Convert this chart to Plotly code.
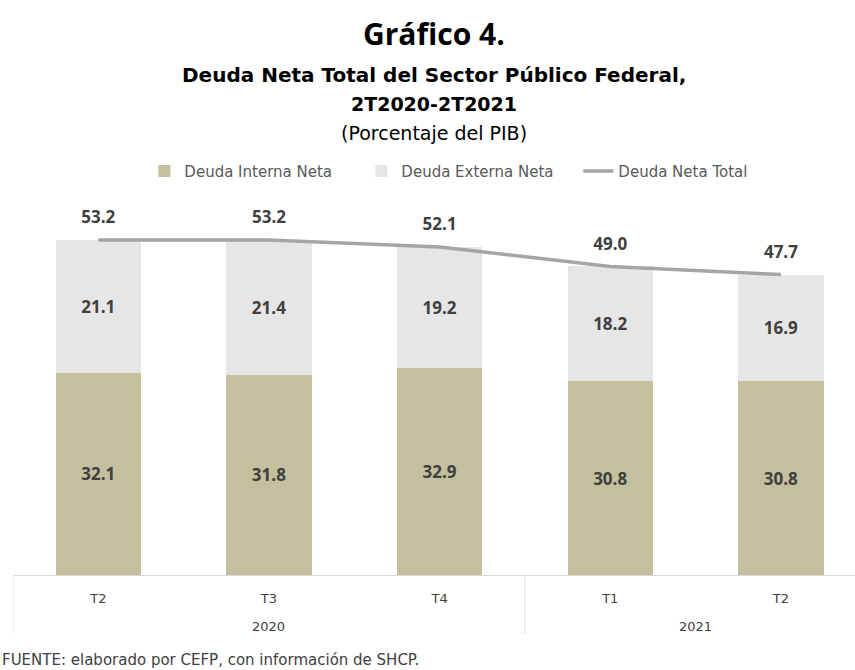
import plotly.graph_objects as go

# data
periods = ["2T2020", "3T2020", "4T2020", "1T2021", "2T2021"]
quarters = ["T2", "T3", "T4", "T1", "T2"]
years = ["2020", "2021"]
interna = [32.1, 31.8, 32.9, 30.8, 30.8]
externa = [21.1, 21.4, 19.2, 18.2, 16.9]
total = [53.2, 53.2, 52.1, 49.0, 47.7]

FONT = "Open Sans"
WIDE = "DejaVu Sans"
DARK = "#404040"
GRID = "#D9D9D9"

fig = go.Figure()

fig.add_trace(go.Bar(
    x=periods, y=interna, name="Deuda Interna Neta",
    marker=dict(color="#C4BF9C", line=dict(width=0)),
    texttemplate="%{y:.1f}", textposition="inside", insidetextanchor="middle",
    textfont=dict(family=FONT, size=17, color=DARK, weight="bold"),
    width=0.5,
))
fig.add_trace(go.Bar(
    x=periods, y=externa, name="Deuda Externa Neta",
    marker=dict(color="#E6E6E6", line=dict(width=0)),
    texttemplate="%{y:.1f}", textposition="inside", insidetextanchor="middle",
    textfont=dict(family=FONT, size=17, color=DARK, weight="bold"),
    width=0.5,
))
fig.add_trace(go.Scatter(
    x=periods, y=total, name="Deuda Neta Total",
    mode="lines+markers+text",
    line=dict(color="#A5A5A5", width=3.5),
    text=[f"{v:.1f}" for v in total], textposition="top center",
    textfont=dict(family=FONT, size=17, color=DARK, weight="bold"),
    marker=dict(size=18, color="rgba(0,0,0,0)"),
))

fig.update_layout(
    width=855, height=670,
    margin=dict(l=13, r=0, t=200, b=95, autoexpand=False),
    barmode="stack",
    plot_bgcolor="white", paper_bgcolor="white",
    font=dict(family=FONT, color=DARK),
    showlegend=True,
    legend=dict(
        orientation="h", x=0.156, xanchor="left", y=1.077, yanchor="middle",
        font=dict(family=WIDE, size=15, color="#595959"),
        traceorder="normal", itemwidth=30,
        entrywidth=172, entrywidthmode="pixels",
    ),
    xaxis=dict(
        type="category", range=[-0.5, 4.434],
        tickvals=periods, ticktext=quarters,
        showline=True, linecolor=GRID, linewidth=1,
        ticks="", ticklabelstandoff=11,
        tickfont=dict(family=WIDE, size=13, color=DARK),
        showgrid=False, automargin=False,
    ),
    yaxis=dict(
        range=[0, 59.55], visible=False, showgrid=False, zeroline=False,
    ),
)

# group dividers below the axis
for xv in [-0.5, 2.5]:
    fig.add_shape(
        type="line", xref="x", yref="paper", x0=xv, x1=xv, y0=0, y1=-0.157,
        line=dict(color=GRID, width=1),
    )

# year labels centred under their quarters
for yr in years:
    idx = [i for i, p in enumerate(periods) if p.endswith(yr)]
    fig.add_annotation(
        text=yr, xref="x", yref="paper", x=sum(idx) / len(idx), y=-0.136,
        xanchor="center", yanchor="middle", showarrow=False,
        font=dict(family=WIDE, size=13, color=DARK),
    )

titles = [
    ("<b>Gráfico 4.</b>", 1.445, 30, FONT),
    ("<b>Deuda Neta Total del Sector Público Federal,</b>", 1.333, 20, WIDE),
    ("<b>2T2020-2T2021</b>", 1.256, 19, WIDE),
    ("(Porcentaje del PIB)", 1.179, 19, WIDE),
]
for txt, yy, sz, fam in titles:
    fig.add_annotation(
        text=txt, xref="paper", yref="paper", x=0.5, y=yy,
        xanchor="center", yanchor="middle", showarrow=False,
        font=dict(family=fam, size=sz, color="black"),
    )

fig.add_annotation(
    text="FUENTE: elaborado por CEFP, con información de SHCP.",
    xref="paper", yref="paper", x=-13 / 842, y=-0.227,
    xanchor="left", yanchor="middle", showarrow=False,
    font=dict(family=WIDE, size=15, color=DARK),
)

fig.write_html("out.html", config={"displayModeBar": False},
               post_script="document.body.style.margin='0';")
